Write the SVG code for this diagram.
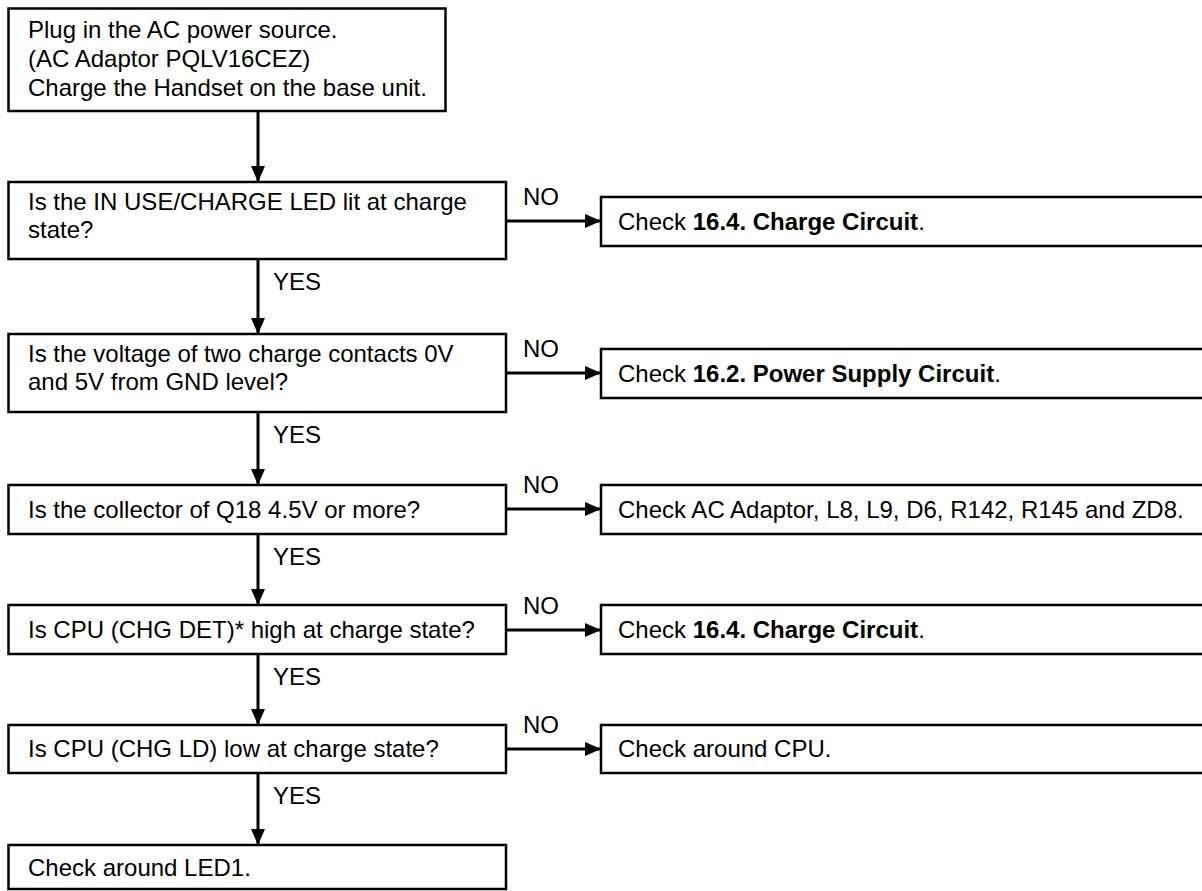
<svg xmlns="http://www.w3.org/2000/svg" width="1202" height="891" viewBox="0 0 1202 891">
<style>
.box{fill:#fff;stroke:#000;stroke-width:2.5}
.t{font-family:"Liberation Sans",Arial,sans-serif;font-size:24px;fill:#000}
.b{font-weight:bold}
.ln{stroke:#000;stroke-width:3;fill:none}
</style>
<defs>
<marker id="ah" markerWidth="16" markerHeight="14" refX="16" refY="7" orient="auto" markerUnits="userSpaceOnUse">
<path d="M0,0 L16,7 L0,14 Z" fill="#000"/>
</marker>
</defs>
<rect x="0" y="0" width="1202" height="891" fill="#fff"/>
<g id="connectors">
<line class="ln" x1="258" y1="111" x2="258" y2="182" marker-end="url(#ah)"/>
<line class="ln" x1="258" y1="259" x2="258" y2="334" marker-end="url(#ah)"/>
<line class="ln" x1="258" y1="412" x2="258" y2="485" marker-end="url(#ah)"/>
<line class="ln" x1="258" y1="534" x2="258" y2="605" marker-end="url(#ah)"/>
<line class="ln" x1="258" y1="654" x2="258" y2="725" marker-end="url(#ah)"/>
<line class="ln" x1="258" y1="773" x2="258" y2="845" marker-end="url(#ah)"/>
<line class="ln" x1="506" y1="221" x2="601" y2="221" marker-end="url(#ah)"/>
<line class="ln" x1="506" y1="373" x2="601" y2="373" marker-end="url(#ah)"/>
<line class="ln" x1="506" y1="509" x2="601" y2="509" marker-end="url(#ah)"/>
<line class="ln" x1="506" y1="630" x2="601" y2="630" marker-end="url(#ah)"/>
<line class="ln" x1="506" y1="749" x2="601" y2="749" marker-end="url(#ah)"/>
<text class="t" x="273" y="290">YES</text>
<text class="t" x="273" y="443">YES</text>
<text class="t" x="273" y="565">YES</text>
<text class="t" x="273" y="685">YES</text>
<text class="t" x="273" y="804">YES</text>
<text class="t" x="523" y="205">NO</text>
<text class="t" x="523" y="357">NO</text>
<text class="t" x="523" y="493">NO</text>
<text class="t" x="523" y="614">NO</text>
<text class="t" x="523" y="733">NO</text>
</g>
<g id="n1">
<rect class="box" x="8.5" y="8.5" width="437" height="102.5"/>
<text class="t" x="28" y="38">Plug in the AC power source.</text>
<text class="t" x="28" y="67">(AC Adaptor PQLV16CEZ)</text>
<text class="t" x="28" y="96">Charge the Handset on the base unit.</text>
</g>
<g id="n2">
<rect class="box" x="8.5" y="182" width="497.5" height="77"/>
<text class="t" x="28" y="210">Is the IN USE/CHARGE LED lit at charge</text>
<text class="t" x="28" y="238">state?</text>
</g>
<g id="n2r">
<rect class="box" x="601" y="197" width="620" height="49"/>
<text class="t" x="618" y="230">Check <tspan class="b">16.4. Charge Circuit</tspan>.</text>
</g>
<g id="n3">
<rect class="box" x="8.5" y="334" width="497.5" height="78"/>
<text class="t" x="28" y="362">Is the voltage of two charge contacts 0V</text>
<text class="t" x="28" y="390">and 5V from GND level?</text>
</g>
<g id="n3r">
<rect class="box" x="601" y="349" width="620" height="49"/>
<text class="t" x="618" y="382">Check <tspan class="b">16.2. Power Supply Circuit</tspan>.</text>
</g>
<g id="n4">
<rect class="box" x="8.5" y="485" width="497.5" height="49"/>
<text class="t" x="28" y="518">Is the collector of Q18 4.5V or more?</text>
</g>
<g id="n4r">
<rect class="box" x="601" y="485" width="620" height="49"/>
<text class="t" x="618" y="518">Check AC Adaptor, L8, L9, D6, R142, R145 and ZD8.</text>
</g>
<g id="n5">
<rect class="box" x="8.5" y="605" width="497.5" height="49"/>
<text class="t" x="28" y="638">Is CPU (CHG DET)* high at charge state?</text>
</g>
<g id="n5r">
<rect class="box" x="601" y="605" width="620" height="49"/>
<text class="t" x="618" y="638">Check <tspan class="b">16.4. Charge Circuit</tspan>.</text>
</g>
<g id="n6">
<rect class="box" x="8.5" y="725" width="497.5" height="48"/>
<text class="t" x="28" y="757">Is CPU (CHG LD) low at charge state?</text>
</g>
<g id="n6r">
<rect class="box" x="601" y="725" width="620" height="48"/>
<text class="t" x="618" y="757">Check around CPU.</text>
</g>
<g id="n7">
<rect class="box" x="8.5" y="845" width="497.5" height="44"/>
<text class="t" x="28" y="876">Check around LED1.</text>
</g>
</svg>
